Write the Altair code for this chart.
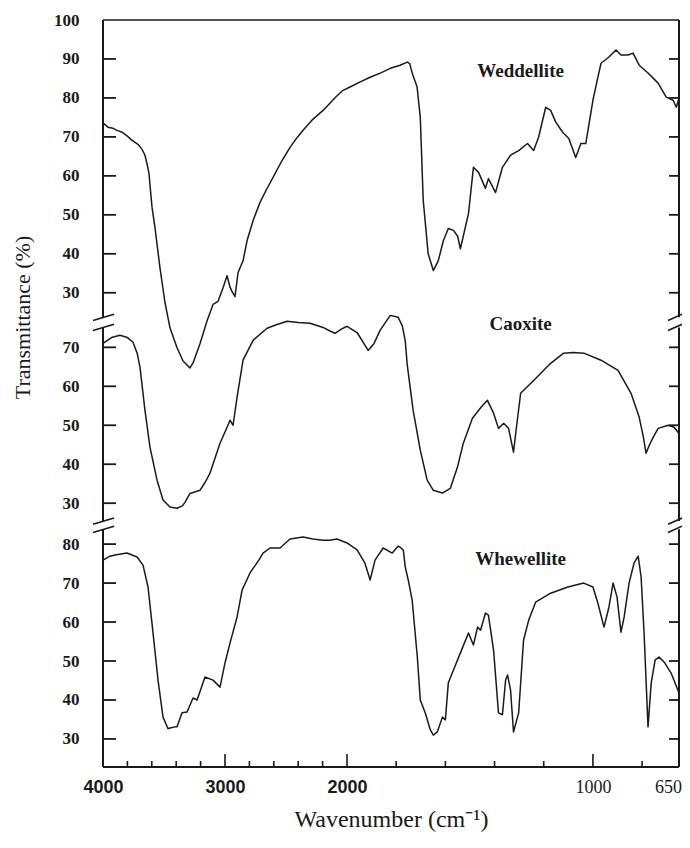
import altair as alt
import pandas as pd

# ---------------- data ----------------
wed_wn = [4000, 3960, 3918, 3880, 3844, 3800, 3762, 3713, 3680, 3656, 3635, 3623, 3610, 3598, 3574,
          3533, 3492, 3451, 3393, 3344, 3287, 3262, 3205, 3147, 3098, 3057, 3016, 2983, 2960, 2942,
          2918, 2893, 2852, 2819, 2770, 2713, 2660, 2606, 2540, 2467, 2410, 2360, 2280, 2196, 2100,
          2040, 1988, 1950, 1906, 1860, 1824, 1784, 1755, 1745, 1735, 1715, 1702, 1690, 1670, 1649,
          1629, 1608, 1588, 1567, 1550, 1539, 1506, 1486, 1465, 1437, 1425, 1396, 1368, 1335, 1302,
          1266, 1241, 1221, 1192, 1172, 1151, 1123, 1098, 1070, 1049, 1029, 1000, 980, 967, 935,
          906, 886, 857, 837, 812, 776, 735, 702, 674, 661, 650]
wed_t = [73.6, 72.5, 72.2, 71.6, 71.2, 70.2, 69.1, 68.1, 66.8, 65.3, 62.5, 60.6, 56.0, 51.9, 46.7,
         36.4, 27.5, 21.0, 15.9, 12.5, 10.7, 12.0, 16.9, 22.8, 27.0, 27.8, 31.3, 34.4, 31.5, 30.3,
         29.0, 35.2, 38.2, 43.4, 48.5, 53.2, 56.5, 59.6, 63.5, 67.3, 69.8, 71.7, 74.5, 76.8, 80.0,
         81.8, 82.8, 84.0, 85.3, 86.5, 87.6, 88.4, 89.2, 88.8, 86.4, 82.8, 75.0, 53.7, 40.0, 35.7,
         38.2, 43.4, 46.5, 46.0, 44.5, 41.3, 50.3, 62.2, 60.9, 56.8, 59.3, 55.7, 62.2, 65.3, 66.5,
         68.3, 66.5, 69.9, 77.6, 76.8, 73.8, 71.2, 69.6, 64.7, 68.3, 68.3, 79.4, 85.3, 88.9, 90.5,
         92.3, 91.0, 91.0, 91.5, 88.4, 86.4, 83.8, 80.2, 79.4, 77.6, 79.9]

cao_wn = [4000, 3930, 3861, 3800, 3754, 3720, 3697, 3656, 3615, 3557, 3508, 3451, 3393, 3350, 3328,
          3287, 3205, 3160, 3123, 3041, 2983, 2959, 2934, 2901, 2852, 2770, 2655, 2580, 2491, 2400,
          2303, 2196, 2140, 2098, 2050, 2000, 1959, 1914, 1890, 1865, 1824, 1792, 1775, 1763, 1755,
          1731, 1702, 1674, 1649, 1612, 1580, 1551, 1527, 1490, 1450, 1429, 1404, 1384, 1363, 1343,
          1323, 1310, 1294, 1241, 1172, 1119, 1080, 1037, 967, 898, 845, 812, 795, 784, 770,
          755, 735, 694, 670, 650]
cao_t = [71.0, 72.5, 73.1, 72.5, 71.3, 68.5, 64.9, 53.8, 44.4, 35.9, 30.8, 29.0, 28.7, 29.3, 30.2,
         32.5, 33.3, 35.5, 37.7, 45.4, 49.5, 51.3, 50.0, 57.2, 66.7, 71.8, 74.9, 75.8, 76.7, 76.4,
         76.2, 75.1, 74.2, 73.6, 74.6, 75.4, 73.8, 69.2, 71.0, 74.4, 78.2, 77.7, 75.5, 71.5, 65.5,
         53.8, 43.6, 35.9, 33.3, 32.6, 33.8, 39.2, 45.4, 51.8, 55.0, 56.4, 53.1, 49.2, 50.5, 49.2,
         43.1, 50.0, 58.2, 61.5, 65.9, 68.5, 68.7, 68.5, 66.7, 64.1, 58.2, 52.1, 47.0, 42.8, 45.0,
         46.9, 49.2, 50.0, 49.5, 47.9]

whe_wn = [4000, 3950, 3902, 3803, 3721, 3672, 3631, 3590, 3549, 3508, 3467, 3451, 3410, 3393, 3352,
          3311, 3262, 3229, 3164, 3098, 3041, 3000, 2959, 2901, 2860, 2795, 2720, 2688, 2631, 2549,
          2467, 2360, 2280, 2196, 2140, 2082, 2000, 1959, 1927, 1906, 1886, 1853, 1816, 1792, 1784,
          1771, 1763, 1751, 1735, 1714, 1702, 1682, 1661, 1649, 1633, 1612, 1600, 1588, 1567, 1531,
          1506, 1486, 1469, 1457, 1437, 1425, 1404, 1384, 1368, 1355, 1347, 1335, 1323, 1302, 1282,
          1261, 1233, 1172, 1102, 1037, 1000, 980, 955, 935, 918, 902, 886, 873, 853, 833,
          816, 804, 792, 776, 763, 747, 731, 710, 682, 650]
whe_t = [75.9, 76.8, 77.2, 77.7, 76.7, 74.6, 69.0, 57.2, 45.1, 35.6, 32.6, 32.8, 33.1, 33.1, 36.7,
         36.9, 40.5, 40.0, 45.9, 45.1, 43.3, 49.5, 54.6, 61.3, 68.2, 72.6, 76.0, 77.7, 79.0, 79.0,
         81.3, 81.8, 81.3, 81.0, 81.0, 81.3, 80.3, 78.5, 75.1, 70.8, 75.9, 79.0, 77.7, 79.5, 79.2,
         78.5, 74.1, 70.8, 65.6, 51.0, 40.0, 36.7, 32.3, 31.0, 31.8, 35.6, 34.9, 44.4, 47.7, 53.3,
         57.2, 54.1, 58.7, 57.9, 62.3, 61.8, 52.8, 36.7, 36.2, 45.1, 46.4, 42.6, 31.8, 36.7, 55.4,
         60.5, 65.1, 67.4, 69.0, 70.0, 69.0, 64.9, 58.7, 63.8, 70.0, 66.4, 57.4, 61.3, 70.0, 75.1,
         76.9, 71.5, 57.2, 33.1, 44.4, 50.3, 51.0, 49.7, 46.9, 41.8]

series_names = ["Weddellite", "Caoxite", "Whewellite"]
# vertical offset of each trace on the shared (broken) transmittance axis
series_offset = [114.5, 60.5, 0.0]
# y tick labels shown for each segment of the broken axis
seg_ticks = [[100, 90, 80, 70, 60, 50, 40, 30],
             [70, 60, 50, 40, 30],
             [80, 70, 60, 50, 40, 30]]
x_major = [4000, 3000, 2000, 1000, 650]
x_minor = [3800, 3600, 3400, 3200, 2800, 2600, 2400, 2200, 1800, 1600, 1400, 1200, 800]
# where the name labels sit (wavenumber, transmittance in its own segment)
label_wn = [1294, 1294, 1294]
label_t = [86.9, 75.9, 76.2]

# ---------------- layout ----------------
W, H = 576, 747
Y_LO, Y_HI = 22.8, 214.5
BREAKS = [(135.6, 138.2), (83.8, 85.9)]   # gaps in the vertical axes (global units)
SERIF = "Liberation Serif"
INK = "#1a1a1a"

frames = []
for name, wn, t, off in zip(series_names, [wed_wn, cao_wn, whe_wn], [wed_t, cao_t, whe_t], series_offset):
    frames.append(pd.DataFrame({"series": name, "wn": wn, "g": [v + off for v in t]}))
spec_df = pd.concat(frames, ignore_index=True)
spec_df["idx"] = range(len(spec_df))

axis_vals = []
for ticks, off in zip(seg_ticks, series_offset):
    axis_vals += [v + off for v in ticks]
tick_df = pd.DataFrame({"g": [v for v in axis_vals if v < Y_HI - 0.5]})

x_scale = alt.Scale(domain=[4000, 2000, 650], range=[0, 244, W], zero=False, nice=False)
y_scale = alt.Scale(domain=[Y_LO, Y_HI], zero=False, nice=False)

label_expr = ("datum.value > 140 ? round(datum.value - 114.5) : "
              "datum.value > 88 ? round(datum.value - 60.5) : round(datum.value)")

x_axis = alt.Axis(values=x_major, format="d", ticks=False, tickSize=0, domain=False, grid=False,
                  labelFlush=False, labelPadding=11, labelFontSize=18, labelColor=INK,
                  labelFont=alt.ExprRef(expr="datum.value >= 2000 ? 'Liberation Sans' : 'Liberation Serif'"),
                  labelFontWeight=alt.ExprRef(expr="datum.value >= 2000 ? 'bold' : 'normal'"),
                  labelOffset=alt.ExprRef(expr="datum.value == 650 ? -11 : 0"),
                  title="Wavenumber (cm⁻¹)", titleFont=SERIF, titleFontSize=24,
                  titleFontWeight="normal", titleColor=INK,
                  titleX=288, titleY=40, titleAlign="center", titleBaseline="top")
y_axis = alt.Axis(values=axis_vals, labelExpr=label_expr, ticks=False, tickSize=0,
                  domain=False, grid=False, labelPadding=24, labelFont=SERIF,
                  labelFontWeight="bold", labelFontSize=17, labelColor=INK,
                  title="Transmittance (%)", titleFont=SERIF, titleFontSize=22,
                  titleFontWeight="normal", titleColor=INK,
                  titleX=-81, titleY=297, titleAngle=270,
                  titleAlign="center", titleBaseline="middle")


def X(field):
    return alt.X(field, scale=x_scale, axis=x_axis)


def Y(field):
    return alt.Y(field, scale=y_scale, axis=y_axis)


lines = alt.Chart(spec_df).mark_line(color=INK, strokeWidth=1.5, strokeJoin="round").encode(
    x=X("wn:Q"), y=Y("g:Q"), detail="series:N", order=alt.Order("idx:Q"))

one = pd.DataFrame({"k": [0]})
frame_top = alt.Chart(one).mark_rule(color=INK, strokeWidth=1.5).encode(
    x=alt.value(0), x2=alt.value(W), y=alt.value(0))
frame_bot = alt.Chart(one).mark_rule(color=INK, strokeWidth=2).encode(
    x=alt.value(0), x2=alt.value(W), y=alt.value(H))

# vertical axis segments with breaks
seg_lo = [Y_LO, BREAKS[1][1], BREAKS[0][1]]
seg_hi = [BREAKS[1][0], BREAKS[0][0], Y_HI]
seg_df = pd.DataFrame({"g": seg_lo, "hi": seg_hi})
left_segs = alt.Chart(seg_df).mark_rule(color=INK, strokeWidth=2).encode(
    x=alt.value(0), y=Y("g:Q"), y2="hi:Q")
right_segs = alt.Chart(seg_df).mark_rule(color=INK, strokeWidth=2).encode(
    x=alt.value(W), y=Y("g:Q"), y2="hi:Q")

# break slashes
slash_g = [b for pair in BREAKS for b in pair]
slash_df = pd.DataFrame({"c": slash_g})
slash_df["g"] = slash_df["c"] - 0.8
slash_df["g2"] = slash_df["c"] + 0.8
slash_l = alt.Chart(slash_df).mark_rule(color=INK, strokeWidth=1.6).encode(
    x=alt.value(-10), x2=alt.value(11), y=Y("g:Q"), y2="g2:Q")
slash_r = alt.Chart(slash_df).mark_rule(color=INK, strokeWidth=1.6).encode(
    x=alt.value(W - 11), x2=alt.value(W + 3), y=Y("g:Q"), y2="g2:Q")

# inward y ticks
yt_left = alt.Chart(tick_df).mark_rule(color=INK, strokeWidth=1.8).encode(
    x=alt.value(0), x2=alt.value(13), y=Y("g:Q"))
yt_right = alt.Chart(tick_df).mark_rule(color=INK, strokeWidth=1.8).encode(
    x=alt.value(W - 10), x2=alt.value(W), y=Y("g:Q"))

# inward x ticks
xt_major = alt.Chart(pd.DataFrame({"wn": [v for v in x_major if v not in (4000, 650)]})).mark_rule(
    color=INK, strokeWidth=1.6).encode(x=X("wn:Q"), y=alt.value(H - 13), y2=alt.value(H))
xt_minor = alt.Chart(pd.DataFrame({"wn": x_minor})).mark_rule(color=INK, strokeWidth=1.6).encode(
    x=X("wn:Q"), y=alt.value(H - 6), y2=alt.value(H))

# series names
lab_df = pd.DataFrame({"name": series_names, "wn": label_wn,
                       "g": [t + o for t, o in zip(label_t, series_offset)]})
labels = alt.Chart(lab_df).mark_text(font=SERIF, fontWeight="bold", fontSize=19, color=INK).encode(
    x=X("wn:Q"), y=Y("g:Q"), text="name:N")

chart = alt.layer(lines, frame_top, frame_bot, left_segs, right_segs, slash_l, slash_r,
                  yt_left, yt_right, xt_major, xt_minor, labels).properties(
    width=W, height=H,
    padding={"left": 95, "top": 12, "right": 3, "bottom": 70},
    autosize=alt.AutoSizeParams(type="none"),
    background="white",
).configure_view(stroke=None)

chart.save("out.html", embed_options={"renderer": "svg", "actions": False})
